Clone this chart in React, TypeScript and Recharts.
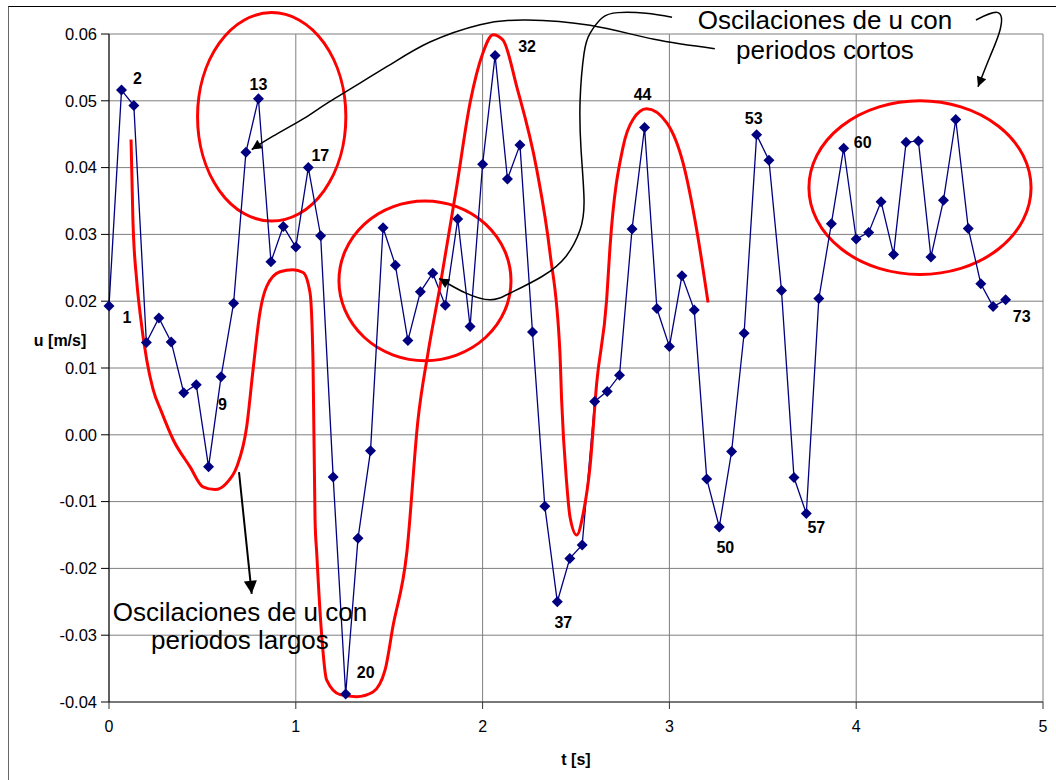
import React from "react";
import {
  LineChart,
  Line,
  XAxis,
  YAxis,
  CartesianGrid,
  ReferenceArea,
  ReferenceDot,
} from "recharts";

// time [s] of each sample (73 samples)
const timeS = [
  0, 0.067, 0.133, 0.2, 0.267, 0.333, 0.4, 0.467, 0.533, 0.6, 0.667, 0.733, 0.8, 0.867, 0.933, 1,
  1.067, 1.133, 1.2, 1.267, 1.333, 1.4, 1.467, 1.533, 1.6, 1.667, 1.733, 1.8, 1.867, 1.933, 2,
  2.067, 2.133, 2.2, 2.267, 2.333, 2.4, 2.467, 2.533, 2.6, 2.667, 2.733, 2.8, 2.867, 2.933, 3,
  3.067, 3.133, 3.2, 3.267, 3.333, 3.4, 3.467, 3.533, 3.6, 3.667, 3.733, 3.8, 3.867, 3.933, 4,
  4.067, 4.133, 4.2, 4.267, 4.333, 4.4, 4.467, 4.533, 4.6, 4.667, 4.733, 4.8,
];

// u [m/s]
const velocity = [
  0.0193, 0.0516, 0.0493, 0.0138, 0.0175, 0.0139, 0.0063, 0.0075, -0.0048, 0.0087,
  0.0197, 0.0423, 0.0503, 0.0259, 0.0312, 0.0281, 0.04, 0.0298, -0.0063, -0.0388,
  -0.0155, -0.0024, 0.031, 0.0254, 0.0141, 0.0214, 0.0242, 0.0194, 0.0323, 0.0162,
  0.0405, 0.0568, 0.0383, 0.0434, 0.0154, -0.0107, -0.025, -0.0185, -0.0165, 0.005,
  0.0065, 0.0089, 0.0308, 0.046, 0.0189, 0.0132, 0.0238, 0.0187, -0.0066, -0.0138,
  -0.0025, 0.0152, 0.0449, 0.0411, 0.0216, -0.0064, -0.0118, 0.0204, 0.0316, 0.0429,
  0.0293, 0.0303, 0.0349, 0.027, 0.0438, 0.044, 0.0266, 0.0351, 0.0472, 0.0309,
  0.0226, 0.0192, 0.0202,
];

const xTicks = [0, 1, 2, 3, 4, 5];
const yTicks = [-0.04, -0.03, -0.02, -0.01, 0, 0.01, 0.02, 0.03, 0.04, 0.05, 0.06];

// numbered points and where their label sits (px offset from the marker)
const labelOffsets: Record<number, [number, number]> = {
  1: [18, 12],
  2: [16, -12],
  9: [14, -62],
  13: [0, -14],
  17: [12, -12],
  20: [20, -21],
  32: [32, -9],
  37: [6, 21],
  44: [-2, -33],
  50: [6, 21],
  53: [-3, -16],
  57: [10, 14],
  60: [19, -6],
  73: [16, 17],
};

// red hand-drawn curve (long periods)
const redT = [
  0.118, 0.128, 0.148, 0.166, 0.202, 0.236, 0.28, 0.343, 0.434, 0.503, 0.567, 0.63, 0.684,
  0.737, 0.771, 0.808, 0.844, 0.915, 0.985, 1.039, 1.076, 1.092, 1.103, 1.112, 1.139, 1.165,
  1.237, 1.326, 1.413, 1.478, 1.52, 1.594, 1.654, 1.708, 1.772, 1.861, 1.933, 2.002, 2.056,
  2.109, 2.183, 2.29, 2.361, 2.414, 2.423, 2.45, 2.468, 2.504, 2.539, 2.575, 2.611, 2.664,
  2.682, 2.752, 2.805, 2.878, 2.986, 3.073, 3.146, 3.207,
];
const redU = [
  0.0442, 0.0322, 0.0232, 0.0183, 0.0112, 0.0068, 0.0035, -0.0007, -0.0048, -0.0078, -0.0082,
  -0.0072, -0.0048, 0.0012, 0.0097, 0.0183, 0.0222, 0.0244, 0.0247, 0.0243, 0.0213, 0.0112,
  -0.0127, -0.0177, -0.0302, -0.0367, -0.0389, -0.0392, -0.0385, -0.0352, -0.0287, -0.0177,
  0.0022, 0.0123, 0.0222, 0.0371, 0.0497, 0.0572, 0.0599, 0.0591, 0.0521, 0.0397, 0.0272,
  0.0123, 0.0052, -0.0072, -0.0123, -0.015, -0.0117, -0.0048, 0.0078, 0.0202, 0.0281,
  0.0431, 0.0472, 0.0488, 0.0467, 0.0407, 0.0307, 0.0198,
];

// red ellipses (short periods): t1, t2, u1, u2
const ellipseT1 = [0.474, 1.231, 3.747];
const ellipseT2 = [1.268, 2.152, 4.936];
const ellipseU1 = [0.032, 0.0111, 0.024];
const ellipseU2 = [0.0632, 0.035, 0.05];

// black arrows
const arrowAT = [3.243, 2.918, 2.575, 2.232, 1.986, 1.718, 1.487, 1.183, 1.058, 0.878, 0.764];
const arrowAU = [0.0578, 0.0592, 0.0613, 0.0621, 0.0614, 0.0588, 0.0551, 0.0499, 0.0476, 0.0447, 0.0427];
const arrowBT = [3.014, 2.875, 2.725, 2.639, 2.575, 2.543, 2.522, 2.527, 2.543, 2.522, 2.446, 2.318, 2.147, 2.04, 1.911, 1.767];
const arrowBU = [0.0625, 0.0631, 0.0632, 0.0624, 0.0601, 0.0571, 0.0501, 0.0427, 0.0352, 0.0307, 0.0267, 0.0237, 0.0212, 0.0202, 0.0212, 0.0234];
const arrowCT = [4.641, 4.759, 4.77, 4.716, 4.652];
const arrowCU = [0.0621, 0.0632, 0.0606, 0.0566, 0.0521];
const arrowDT = [0.696, 0.764];
const arrowDU = [-0.0056, -0.0238];

// annotation texts
const noteText = [
  "Oscilaciones de u con",
  "periodos cortos",
  "Oscilaciones de u con",
  "periodos largos",
];
const noteT = [3.833, 3.833, 0.701, 0.701];
const noteU = [0.0621, 0.0576, -0.0266, -0.0307];

const toPoints = (ts: number[], us: number[]) => ts.map((t, i) => ({ t, u: us[i] }));

const mainData = toPoints(timeS, velocity);
const redData = toPoints(redT, redU);
const arrowA = toPoints(arrowAT, arrowAU);
const arrowB = toPoints(arrowBT, arrowBU);
const arrowC = toPoints(arrowCT, arrowCU);
const arrowD = toPoints(arrowDT, arrowDU);

const NAVY = "#000080";

function Diamond(props: any) {
  const { cx, cy, index } = props;
  if (cx == null || cy == null) return null;
  const n = index + 1;
  const off = labelOffsets[n];
  const s = 5.5;
  return (
    <g key={`pt-${index}`}>
      <polygon
        points={`${cx},${cy - s} ${cx + s},${cy} ${cx},${cy + s} ${cx - s},${cy}`}
        fill={NAVY}
      />
      {off && (
        <text
          x={cx + off[0]}
          y={cy + off[1]}
          textAnchor="middle"
          dominantBaseline="central"
          fontWeight="bold"
          fontSize={16}
          fill="#000"
        >
          {n}
        </text>
      )}
    </g>
  );
}

const ellipseShape = (p: any) => (
  <ellipse
    cx={p.x + p.width / 2}
    cy={p.y + p.height / 2}
    rx={Math.abs(p.width / 2)}
    ry={Math.abs(p.height / 2)}
    fill="none"
    stroke="#ff0000"
    strokeWidth={3}
  />
);

export default function App() {
  return (
    <div
      style={{
        position: "fixed",
        left: 0,
        top: 0,
        width: 1056,
        height: 780,
        background: "#fff",
        fontFamily: "'Liberation Sans', Arial, sans-serif",
      }}
    >
      <style>{`.ann-curve path{clip-path:none !important}`}</style>
      <div
        style={{
          position: "absolute",
          left: 8,
          top: 6,
          width: 1060,
          height: 790,
          borderTop: "1px solid #000",
          borderLeft: "1px solid #666",
        }}
      />
      <div style={{ position: "absolute", left: 0, top: 0 }}>
        <LineChart width={1056} height={780} margin={{ top: 34, right: 13, bottom: 48, left: 0 }}>
          <defs>
            <marker
              id="arrowSmall"
              viewBox="0 0 10 10"
              refX="10"
              refY="5"
              markerWidth="13"
              markerHeight="10"
              markerUnits="userSpaceOnUse"
              orient="auto"
            >
              <path d="M0,0 L10,5 L0,10 z" fill="#000" />
            </marker>
            <marker
              id="arrowBig"
              viewBox="0 0 10 10"
              refX="10"
              refY="5"
              markerWidth="15"
              markerHeight="13"
              markerUnits="userSpaceOnUse"
              orient="auto"
            >
              <path d="M0,0 L10,5 L0,10 z" fill="#000" />
            </marker>
          </defs>
          <CartesianGrid
            horizontalValues={yTicks}
            verticalValues={xTicks}
            stroke="#7f7f7f"
            strokeWidth={1}
          />
          <XAxis
            dataKey="t"
            type="number"
            domain={[0, 5]}
            ticks={xTicks}
            height={30}
            tickSize={7}
            tickMargin={12}
            stroke="#333"
            tick={{ fontSize: 16, fill: "#000" }}
            label={{ value: "t [s]", position: "bottom", offset: 22, fontSize: 16, fontWeight: "bold", fill: "#000" }}
          />
          <YAxis
            type="number"
            domain={[-0.04, 0.06]}
            ticks={yTicks}
            width={109}
            tickSize={8}
            tickMargin={4}
            stroke="#000"
            tickFormatter={(v: number) => v.toFixed(2)}
            tick={{ fontSize: 16.5, fill: "#000" }}
          />
          <XAxis xAxisId="ann" dataKey="t" type="number" domain={[0, 5]} hide allowDataOverflow />
          <YAxis yAxisId="ann" type="number" domain={[-0.04, 0.06]} hide allowDataOverflow />

          <Line
            data={mainData}
            dataKey="u"
            type="linear"
            stroke={NAVY}
            strokeWidth={1.3}
            dot={Diamond}
            activeDot={false}
            isAnimationActive={false}
          />

          <Line
            data={redData}
            dataKey="u"
            type="monotone"
            stroke="#ff0000"
            strokeWidth={3}
            dot={false}
            activeDot={false}
            isAnimationActive={false}
          />

          {ellipseT1.map((t1, i) => (
            <ReferenceArea
              key={`ell-${i}`}
              x1={t1}
              x2={ellipseT2[i]}
              y1={ellipseU1[i]}
              y2={ellipseU2[i]}
              ifOverflow="visible"
              shape={ellipseShape}
            />
          ))}

          {[arrowA, arrowB, arrowC].map((d, i) => (
            <Line
              key={`arr-${i}`}
              xAxisId="ann"
              yAxisId="ann"
              className="ann-curve"
              data={d}
              dataKey="u"
              type="natural"
              stroke="#000"
              strokeWidth={1.5}
              dot={false}
              activeDot={false}
              markerEnd="url(#arrowSmall)"
              isAnimationActive={false}
            />
          ))}
          <Line
            xAxisId="ann"
            yAxisId="ann"
            className="ann-curve"
            data={arrowD}
            dataKey="u"
            type="linear"
            stroke="#000"
            strokeWidth={2}
            dot={false}
            activeDot={false}
            markerEnd="url(#arrowBig)"
            isAnimationActive={false}
          />

          {noteText.map((txt, i) => (
            <ReferenceDot
              key={`note-${i}`}
              x={noteT[i]}
              y={noteU[i]}
              r={0}
              ifOverflow="visible"
              shape={(p: any) => (
                <text
                  x={p.cx}
                  y={p.cy}
                  textAnchor="middle"
                  dominantBaseline="central"
                  fontSize={26}
                  fill="#000"
                >
                  {txt}
                </text>
              )}
            />
          ))}

          <ReferenceDot
            x={-0.262}
            y={0.0141}
            r={0}
            ifOverflow="visible"
            shape={(p: any) => (
              <text
                x={p.cx}
                y={p.cy}
                textAnchor="middle"
                dominantBaseline="central"
                fontSize={16}
                fontWeight="bold"
                fill="#000"
              >
                u [m/s]
              </text>
            )}
          />
        </LineChart>
      </div>
    </div>
  );
}
